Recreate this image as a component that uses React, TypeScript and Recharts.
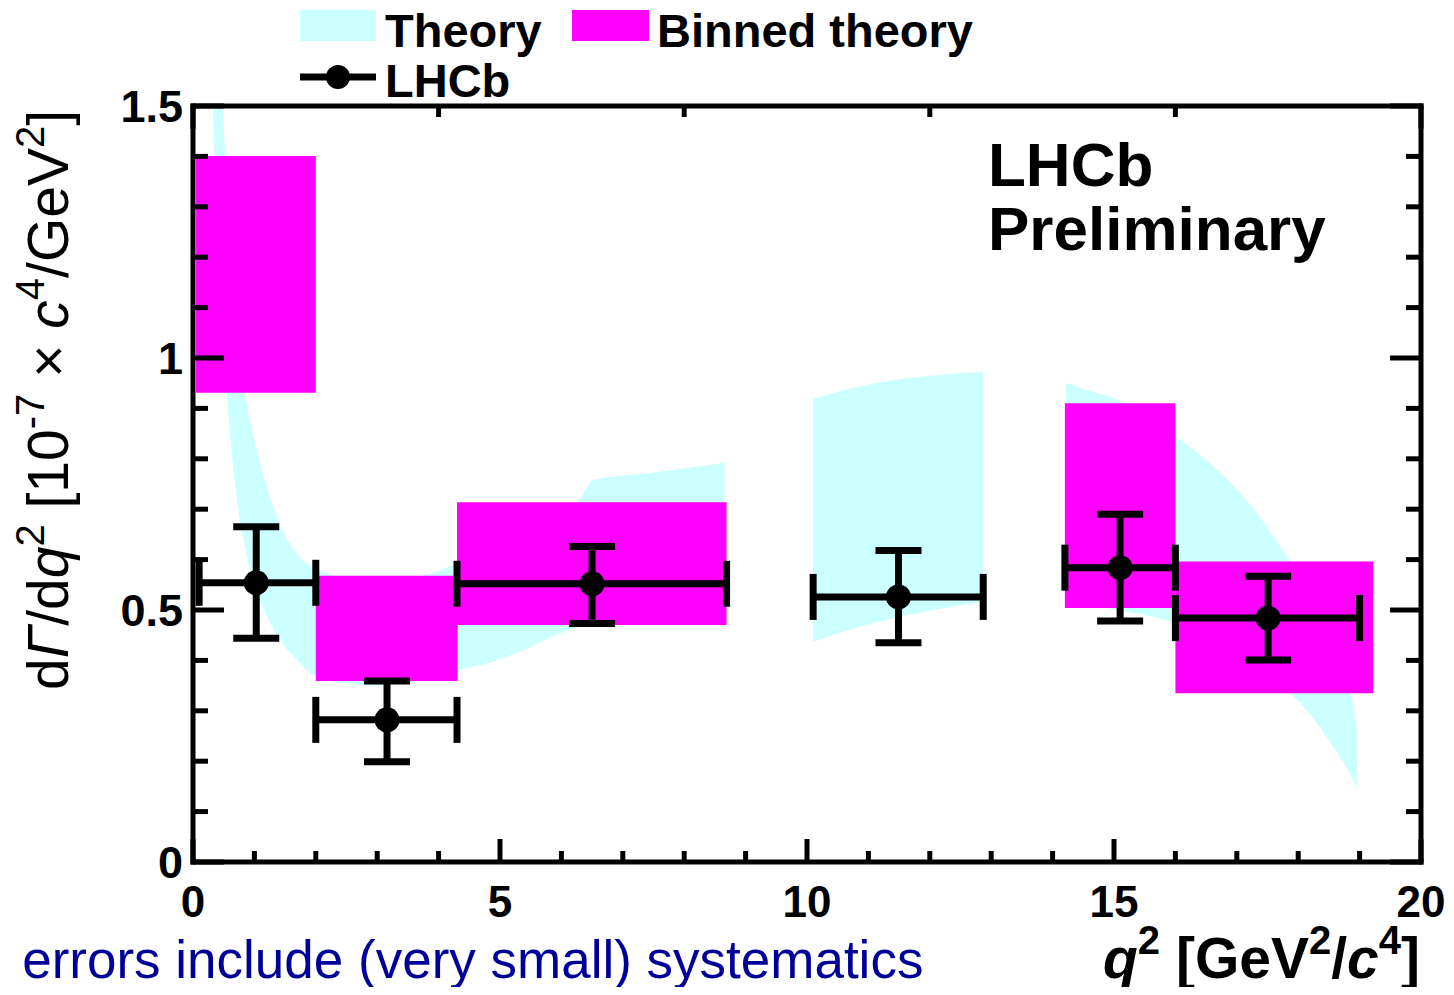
import React from 'react';
import { ComposedChart, Area, Scatter, ErrorBar, XAxis, YAxis, ReferenceArea } from 'recharts';

const W = 1438;
const H = 979;
const FONT = '"Liberation Sans", Arial, Helvetica, sans-serif';

// Theory band (q2, lower edge, upper edge) - low q2 region
const thLowQ2 = [0.30, 0.33, 0.40, 0.49, 0.55, 0.65, 0.80, 0.85, 0.96, 1.04, 1.20, 1.47, 1.74, 1.91, 2.07, 2.44, 2.72, 3.05, 3.60, 4.30, 4.67, 5.28, 5.98, 6.27, 6.42, 6.51, 7.44, 8.66];
const thLowMin = [1.60, 1.48, 1.24, 1.04, 0.93, 0.79, 0.653, 0.625, 0.563, 0.535, 0.488, 0.432, 0.395, 0.375, 0.365, 0.355, 0.351, 0.350, 0.358, 0.381, 0.390, 0.415, 0.454, 0.466, 0.472, 0.476, 0.490, 0.510];
const thLowMax = [2.33, 2.13, 1.79, 1.49, 1.35, 1.17, 0.99, 0.93, 0.857, 0.817, 0.745, 0.655, 0.605, 0.588, 0.579, 0.565, 0.562, 0.560, 0.565, 0.593, 0.615, 0.650, 0.692, 0.714, 0.744, 0.758, 0.772, 0.792];

// Theory band - middle region
const thMidQ2 = [10.10, 10.80, 11.50, 12.20, 12.87];
const thMidMin = [0.437, 0.465, 0.486, 0.503, 0.516];
const thMidMax = [0.919, 0.942, 0.958, 0.967, 0.972];

// Theory band - high q2 region
const thHighQ2 = [14.22, 14.60, 15.05, 15.50, 16.03, 16.68, 17.20, 17.75, 18.30, 18.68, 18.84, 18.96];
const thHighMin = [0.520, 0.512, 0.500, 0.490, 0.474, 0.450, 0.410, 0.350, 0.276, 0.208, 0.175, 0.147];
const thHighMax = [0.950, 0.935, 0.917, 0.885, 0.843, 0.778, 0.712, 0.619, 0.514, 0.415, 0.347, 0.262];

// Binned theory boxes
const binLo = [0.05, 2.0, 4.3, 14.2, 16.0];
const binHi = [2.0, 4.31, 8.69, 16.0, 19.22];
const binMin = [0.931, 0.359, 0.470, 0.504, 0.335];
const binMax = [1.401, 0.568, 0.714, 0.910, 0.596];

// LHCb data points
const lhcbQ2 = [1.03, 3.16, 6.50, 11.49, 15.10, 17.51];
const lhcbBinLo = [0.1, 2.0, 4.3, 10.1, 14.2, 16.0];
const lhcbBinHi = [2.0, 4.3, 8.69, 12.87, 16.0, 19.0];
const lhcbVal = [0.554, 0.282, 0.552, 0.526, 0.584, 0.484];
const lhcbErrLo = [0.444, 0.199, 0.473, 0.435, 0.478, 0.401];
const lhcbErrHi = [0.665, 0.359, 0.626, 0.618, 0.690, 0.567];

// Ticks
const xTicks = [0, 1, 2, 3, 4, 5, 6, 7, 8, 9, 10, 11, 12, 13, 14, 15, 16, 17, 18, 19, 20];
const xMajor = [0, 5, 10, 15, 20];
const yTicks = [0, 0.1, 0.2, 0.3, 0.4, 0.5, 0.6, 0.7, 0.8, 0.9, 1, 1.1, 1.2, 1.3, 1.4, 1.5];
const yMajor = [0, 0.5, 1, 1.5];

const band = (q: number[], lo: number[], hi: number[]) => q.map((x, i) => ({ q: x, lo: lo[i], hi: hi[i] }));
const bandLow = band(thLowQ2, thLowMin, thLowMax);
const bandMid = band(thMidQ2, thMidMin, thMidMax);
const bandHigh = band(thHighQ2, thHighMin, thHighMax);

const lhcb = lhcbQ2.map((q, i) => ({
  q,
  v: lhcbVal[i],
  xErr: [q - lhcbBinLo[i], lhcbBinHi[i] - q],
  yErr: [lhcbVal[i] - lhcbErrLo[i], lhcbErrHi[i] - lhcbVal[i]],
}));

const TM = 10;
const TICK_W = 5;

const LeftTick = (props: any) => {
  const { x, y, payload } = props;
  const v = payload.value;
  const major = yMajor.includes(v);
  const ax = x + TM;
  return (
    <g>
      <line x1={ax} y1={y} x2={ax + (major ? 31 : 15)} y2={y} stroke="#000" strokeWidth={TICK_W} />
      {major && (
        <text x={x} y={y} dy="0.36em" textAnchor="end" fontFamily={FONT} fontWeight="bold" fontSize={45} fill="#000">
          {String(v)}
        </text>
      )}
    </g>
  );
};

const RightTick = (props: any) => {
  const { x, y, payload } = props;
  const major = yMajor.includes(payload.value);
  return <line x1={x} y1={y} x2={x - (major ? 31 : 15)} y2={y} stroke="#000" strokeWidth={TICK_W} />;
};

const BottomTick = (props: any) => {
  const { x, y, payload } = props;
  const v = payload.value;
  const major = xMajor.includes(v);
  const ay = y - TM;
  return (
    <g>
      <line x1={x} y1={ay} x2={x} y2={ay - (major ? 23 : 11)} stroke="#000" strokeWidth={TICK_W} />
      {major && (
        <text x={x} y={ay + 55} textAnchor="middle" fontFamily={FONT} fontWeight="bold" fontSize={44} fill="#000">
          {String(v)}
        </text>
      )}
    </g>
  );
};

const TopTick = (props: any) => {
  const { x, y, payload } = props;
  const major = xMajor.includes(payload.value);
  return <line x1={x} y1={y} x2={x} y2={y + (major ? 23 : 11)} stroke="#000" strokeWidth={TICK_W} />;
};

const axisLine = { stroke: '#000', strokeWidth: 5, strokeLinecap: 'square' as const };

const Dot = (p: any) => <circle cx={p.cx} cy={p.cy} r={12.5} fill="#000" />;

export default function App() {
  return (
    <div style={{ position: 'relative', width: W, height: H }}>
      <ComposedChart width={W} height={H} data={lhcb} margin={{ top: 88, right: 15, bottom: 65, left: 125 }}>
        <XAxis
          xAxisId={0}
          dataKey="q"
          type="number"
          domain={[0, 20]}
          allowDataOverflow
          ticks={xTicks}
          interval={0}
          tickSize={0}
          tickMargin={TM}
          tick={<BottomTick />}
          tickLine={false}
          axisLine={axisLine}
          height={60}
          orientation="bottom"
        />
        <XAxis
          xAxisId="top"
          type="number"
          domain={[0, 20]}
          allowDataOverflow
          ticks={xTicks}
          interval={0}
          tickSize={0}
          tickMargin={0}
          tick={<TopTick />}
          tickLine={false}
          axisLine={axisLine}
          height={10}
          orientation="top"
        />
        <YAxis
          yAxisId={0}
          type="number"
          domain={[0, 1.5]}
          allowDataOverflow
          ticks={yTicks}
          interval={0}
          tickSize={0}
          tickMargin={TM}
          tick={<LeftTick />}
          tickLine={false}
          axisLine={axisLine}
          width={60}
          orientation="left"
        />
        <YAxis
          yAxisId="right"
          type="number"
          domain={[0, 1.5]}
          allowDataOverflow
          ticks={yTicks}
          interval={0}
          tickSize={0}
          tickMargin={0}
          tick={<RightTick />}
          tickLine={false}
          axisLine={axisLine}
          width={10}
          orientation="right"
        />
        <Area data={bandLow} dataKey={(d: any) => [d.lo, d.hi]} type="monotone" fill="#ccffff" fillOpacity={1} stroke="none" dot={false} activeDot={false} isAnimationActive={false} />
        <Area data={bandMid} dataKey={(d: any) => [d.lo, d.hi]} type="monotone" fill="#ccffff" fillOpacity={1} stroke="none" dot={false} activeDot={false} isAnimationActive={false} />
        <Area data={bandHigh} dataKey={(d: any) => [d.lo, d.hi]} type="monotone" fill="#ccffff" fillOpacity={1} stroke="none" dot={false} activeDot={false} isAnimationActive={false} />
        {binLo.map((b, i) => (
          <ReferenceArea
            key={i}
            x1={b}
            x2={binHi[i]}
            y1={binMin[i]}
            y2={binMax[i]}
            fill="#ff00ff"
            fillOpacity={1}
            stroke="none"
          />
        ))}
        <Scatter data={lhcb} dataKey="v" fill="#000" shape={Dot} isAnimationActive={false}>
          <ErrorBar dataKey="xErr" direction="x" width={23} strokeWidth={7} stroke="#000" isAnimationActive={false} />
          <ErrorBar dataKey="yErr" direction="y" width={23} strokeWidth={7} stroke="#000" isAnimationActive={false} />
        </Scatter>
      </ComposedChart>
      <svg
        width={W}
        height={H}
        style={{ position: 'absolute', left: 0, top: 0, pointerEvents: 'none', overflow: 'visible' }}
        fontFamily={FONT}
      >
        {/* Legend */}
        <rect x={292} y={2} width={76} height={31} fill="#ccffff" />
        <text x={377} y={39} fontSize={47} fontWeight="bold">Theory</text>
        <rect x={564} y={2} width={77} height={31} fill="#ff00ff" />
        <text x={649} y={39} fontSize={47} fontWeight="bold">Binned theory</text>
        <line x1={292} y1={69} x2={368} y2={69} stroke="#000" strokeWidth={7} />
        <circle cx={330} cy={69} r={12} fill="#000" />
        <text x={377} y={89} fontSize={47} fontWeight="bold">LHCb</text>

        {/* Label */}
        <text x={980} y={178} fontSize={62} fontWeight="bold">LHCb</text>
        <text x={980} y={242} fontSize={62} fontWeight="bold">Preliminary</text>

        {/* Y title */}
        <text x={60} y={392} transform="rotate(-90, 60, 392)" textAnchor="middle" fontSize={57}>
          d<tspan fontStyle="italic">Γ</tspan>/d<tspan fontStyle="italic">q</tspan>
          <tspan fontSize={40} dy={-24}>2</tspan>
          <tspan dy={24}> [10</tspan>
          <tspan fontSize={40} dy={-24}>-7</tspan>
          <tspan dy={24}> × </tspan>
          <tspan fontStyle="italic">c</tspan>
          <tspan fontSize={40} dy={-24}>4</tspan>
          <tspan dy={24}>/GeV</tspan>
          <tspan fontSize={40} dy={-24}>2</tspan>
          <tspan dy={24}>]</tspan>
        </text>

        {/* X title */}
        <text x={1412} y={970} textAnchor="end" fontSize={57} fontWeight="bold">
          <tspan fontStyle="italic">q</tspan>
          <tspan fontSize={40} dy={-24}>2</tspan>
          <tspan dy={24}> [GeV</tspan>
          <tspan fontSize={40} dy={-24}>2</tspan>
          <tspan dy={24}>/</tspan>
          <tspan fontStyle="italic">c</tspan>
          <tspan fontSize={40} dy={-24}>4</tspan>
          <tspan dy={24}>]</tspan>
        </text>

        {/* Note */}
        <text x={-30} y={970} fontSize={53} fill="#000099">o errors include (very small) systematics</text>
      </svg>
    </div>
  );
}
